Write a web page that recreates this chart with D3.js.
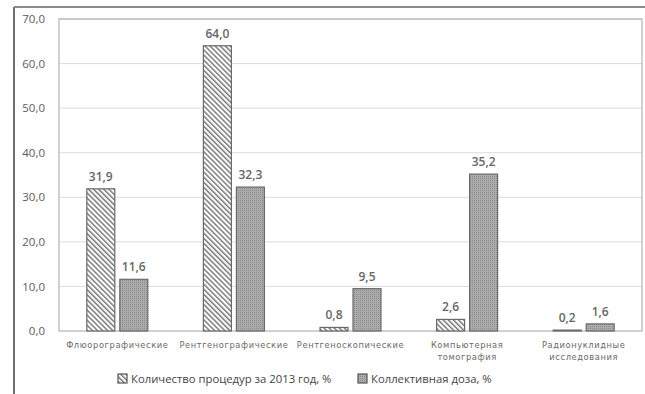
<!DOCTYPE html>
<html>
<head>
<meta charset="utf-8">
<script src="https://cdn.jsdelivr.net/npm/d3@7"></script>
<style>
  html, body { margin: 0; padding: 0; background: #fff; }
  svg { display: block; font-family: "Open Sans", "DejaVu Sans", sans-serif; }
</style>
</head>
<body>
<svg id="chart" width="645" height="394"></svg>
<script>
// Categories of examination (two-line labels split with "\n")
const categories = [
  "Флюорографические",
  "Рентгенографические",
  "Рентгеноскопические",
  "Компьютерная\nтомография",
  "Радионуклидные\nисследования"
];
// Share of procedures in 2013, %
const procedures = [31.9, 64.0, 0.8, 2.6, 0.2];
// Share of collective dose, %
const collectiveDose = [11.6, 32.3, 9.5, 35.2, 1.6];
const seriesNames = ["Количество процедур за 2013 год, %", "Коллективная доза, %"];
const yTicks = [0, 10, 20, 30, 40, 50, 60, 70];

const svg = d3.select("#chart");
const fmt = v => d3.format(".1f")(v).replace(".", ",");

const plot = { left: 59, right: 642, top: 19, bottom: 331 };

// Patterns: diagonal hatching and fine grey dotting
const defs = svg.append("defs");
const hatch = defs.append("pattern")
  .attr("id", "hatch").attr("patternUnits", "userSpaceOnUse")
  .attr("width", 3.6).attr("height", 3.6)
  .attr("patternTransform", "rotate(-45)");
hatch.append("rect").attr("width", 3.6).attr("height", 3.6).attr("fill", "#fff");
hatch.append("rect").attr("x", 0).attr("y", 0).attr("width", 1.5).attr("height", 3.6).attr("fill", "#7a7a7a");

const dots = defs.append("pattern")
  .attr("id", "dots").attr("patternUnits", "userSpaceOnUse")
  .attr("width", 2).attr("height", 2);
dots.append("rect").attr("width", 2).attr("height", 2).attr("fill", "#ababab");
dots.append("rect").attr("width", 1).attr("height", 1).attr("fill", "#8e8e8e");

// Outer frame lines
svg.append("line").attr("x1", 14).attr("x2", 14).attr("y1", 7).attr("y2", 394)
  .attr("stroke", "#6f6f6f").attr("stroke-width", 2);
svg.append("line").attr("x1", 14).attr("x2", 645).attr("y1", 7).attr("y2", 7)
  .attr("stroke", "#8a8a8a").attr("stroke-width", 2);

const x = d3.scaleBand().domain(categories).range([plot.left, plot.right]);
const y = d3.scaleLinear().domain([0, 70]).range([plot.bottom, plot.top]);
const barW = 28, gap = 5;

// Gridlines
svg.append("g").selectAll("line").data(yTicks.filter(t => t > 0)).join("line")
  .attr("x1", plot.left).attr("x2", plot.right)
  .attr("y1", d => y(d)).attr("y2", d => y(d))
  .attr("stroke", "#dcdcdc").attr("stroke-width", 1);

// Plot area border
svg.append("rect").attr("x", plot.left).attr("y", plot.top)
  .attr("width", plot.right - plot.left).attr("height", plot.bottom - plot.top)
  .attr("fill", "none").attr("stroke", "#b3b3b3").attr("stroke-width", 1.2);

// Y axis labels
const yAxis = d3.axisLeft(y).tickValues(yTicks).tickFormat(fmt).tickSize(0).tickPadding(0);
const yg = svg.append("g").attr("transform", "translate(45,0)").call(yAxis);
yg.select(".domain").remove();
yg.selectAll("text").attr("font-size", 11.5).attr("fill", "#5c5c5c")
  .attr("font-family", "'Open Sans', sans-serif");

// Bars
const series = [
  { values: procedures, fill: "url(#hatch)", offset: -(barW + gap / 2) },
  { values: collectiveDose, fill: "url(#dots)", offset: gap / 2 }
];
series.forEach(s => {
  const g = svg.append("g");
  g.selectAll("rect").data(categories).join("rect")
    .attr("x", (c) => x(c) + x.bandwidth() / 2 + s.offset)
    .attr("y", (c, i) => y(s.values[i]))
    .attr("width", barW)
    .attr("height", (c, i) => y(0) - y(s.values[i]))
    .attr("fill", s.fill)
    .attr("stroke", "#6a6a6a").attr("stroke-width", 1.2);
  g.selectAll("text").data(categories).join("text")
    .attr("x", (c) => x(c) + x.bandwidth() / 2 + s.offset + barW / 2)
    .attr("y", (c, i) => y(s.values[i]) - 8)
    .attr("text-anchor", "middle")
    .attr("font-size", 12).attr("font-weight", 600).attr("fill", "#666")
    .text((c, i) => fmt(s.values[i]));
});

// Category labels
const cg = svg.append("g");
categories.forEach(c => {
  const lines = c.split("\n");
  const t = cg.append("text")
    .attr("x", x(c) + x.bandwidth() / 2).attr("y", 348)
    .attr("text-anchor", "middle").attr("font-size", 8.3).attr("fill", "#6a6a6a")
    .attr("font-family", "'DejaVu Sans', sans-serif").attr("letter-spacing", 0.6);
  lines.forEach((l, i) => t.append("tspan")
    .attr("x", x(c) + x.bandwidth() / 2).attr("dy", i === 0 ? 0 : 11.5).text(l));
});

// Legend
const legend = [
  { name: seriesNames[0], fill: "url(#hatch)", x: 118 },
  { name: seriesNames[1], fill: "url(#dots)", x: 358 }
];
legend.forEach(l => {
  svg.append("rect").attr("x", l.x).attr("y", 374).attr("width", 9).attr("height", 9)
    .attr("fill", l.fill).attr("stroke", "#555").attr("stroke-width", 1.2);
  svg.append("text").attr("x", l.x + 13).attr("y", 382.5)
    .attr("font-size", 11.3).attr("fill", "#444").text(l.name);
});
</script>
</body>
</html>
